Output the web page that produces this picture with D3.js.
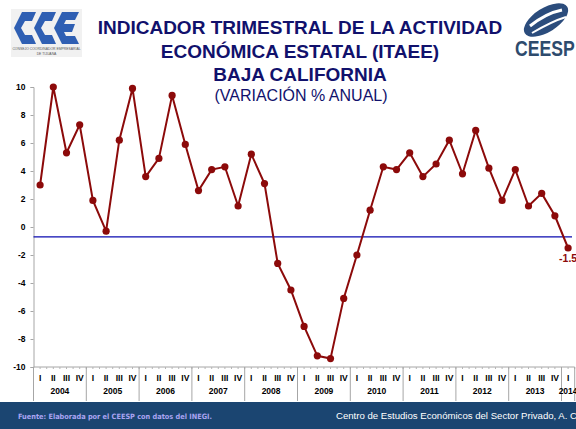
<!DOCTYPE html>
<html>
<head>
<meta charset="utf-8">
<script src="https://cdn.jsdelivr.net/npm/d3@7"></script>
<style>
  body { margin: 0; background: #fff; }
  svg { display: block; font-family: "Liberation Sans", Arial, sans-serif; }
</style>
</head>
<body>
<script>
// data
var years = ["2004", "2005", "2006", "2007", "2008", "2009", "2010", "2011", "2012", "2013", "2014"];
var quarters = ["I", "II", "III", "IV"];
var values = [
  3.0, 10.0, 5.3, 7.3,    // 2004
  1.9, -0.3, 6.2, 9.9,    // 2005
  3.6, 4.9, 9.4, 5.9,     // 2006
  2.6, 4.1, 4.3, 1.5,     // 2007
  5.2, 3.1, -2.6, -4.5,   // 2008
  -7.1, -9.2, -9.4, -5.1, // 2009
  -2.0, 1.2, 4.3, 4.1,    // 2010
  5.3, 3.6, 4.5, 6.2,     // 2011
  3.8, 6.9, 4.2, 1.9,     // 2012
  4.1, 1.5, 2.4, 0.8,     // 2013
  -1.5                    // 2014
];
var avgValue = -0.7;
var yTicks = [-10, -8, -6, -4, -2, 0, 2, 4, 6, 8, 10];
var titleLines = ["INDICADOR TRIMESTRAL DE LA ACTIVIDAD", "ECONÓMICA ESTATAL (ITAEE)", "BAJA CALIFORNIA"];
var subtitle = "(VARIACIÓN % ANUAL)";

var width = 576, height = 429;
var plotL = 33.5, plotR = 574.7, plotT = 87, plotB = 367;

var svg = d3.select("body").append("svg")
    .attr("width", width)
    .attr("height", height);

var points = values.map(function(v, i) {
  return { i: i, year: years[Math.floor(i / 4)], q: quarters[i % 4], v: v };
});

var x = d3.scaleBand()
    .domain(d3.range(values.length))
    .range([plotL, plotR]);
var bw = x.bandwidth();

var y = d3.scaleLinear()
    .domain([-10, 10])
    .range([plotB, plotT]);

// title
var navy = "#11116c";
svg.selectAll("text.title")
  .data(titleLines)
  .enter().append("text")
    .attr("class", "title")
    .attr("x", 300)
    .attr("y", function(d, i) { return 34 + i * 23.5; })
    .attr("text-anchor", "middle")
    .attr("font-size", 19)
    .attr("font-weight", "bold")
    .attr("fill", navy)
    .text(function(d) { return d; });

svg.append("text")
    .attr("x", 301)
    .attr("y", 101)
    .attr("text-anchor", "middle")
    .attr("font-size", 16)
    .attr("fill", navy)
    .text(subtitle);

// left logo (CCE)
var logo = svg.append("g");
logo.append("rect")
    .attr("x", 11).attr("y", 9).attr("width", 71).attr("height", 48)
    .attr("fill", "#f1f1f1");
function cShape(ox) {
  var y0 = 12, y1 = 44;
  return [[ox + 8, y0], [ox + 22, y0], [ox + 18, y0 + 9], [ox + 11, y0 + 9], [ox + 7, y0 + 16],
          [ox + 11, y0 + 23], [ox + 18, y0 + 23], [ox + 22, y1], [ox + 8, y1], [ox, y0 + 16]];
}
function eShape(ox) {
  var y0 = 12, y1 = 44;
  return [[ox + 8, y0], [ox + 25, y0], [ox + 21, y0 + 8], [ox + 12, y0 + 8], [ox + 10, y0 + 12],
          [ox + 21, y0 + 12], [ox + 18, y0 + 20], [ox + 10, y0 + 20], [ox + 12, y0 + 24],
          [ox + 21, y0 + 24], [ox + 25, y1], [ox + 8, y1], [ox, y0 + 16]];
}
[cShape(14), cShape(34), eShape(54)].forEach(function(p) {
  logo.append("polygon")
      .attr("points", p.map(function(d) { return d.join(","); }).join(" "))
      .attr("fill", "#2f5fb3");
});
logo.append("text").attr("x", 46.5).attr("y", 50).attr("text-anchor", "middle")
    .attr("font-size", 3.4).attr("fill", "#555").text("CONSEJO COORDINADOR EMPRESARIAL");
logo.append("text").attr("x", 46.5).attr("y", 54.5).attr("text-anchor", "middle")
    .attr("font-size", 3.4).attr("fill", "#555").text("DE TIJUANA");

// right logo (CEESP)
var logo2 = svg.append("g");
logo2.append("ellipse")
    .attr("cx", 546).attr("cy", 20).attr("rx", 25).attr("ry", 12)
    .attr("transform", "rotate(-32,546,20)")
    .attr("fill", "#2b4c7c");
logo2.append("path")
    .attr("d", "M530,26 C540,18 552,12 562,10")
    .attr("stroke", "#fff").attr("stroke-width", 3).attr("fill", "none");
logo2.append("path")
    .attr("d", "M532,33 C544,26 556,20 566,17")
    .attr("stroke", "#fff").attr("stroke-width", 2).attr("fill", "none");
logo2.append("text")
    .attr("transform", "translate(515,56) scale(0.8,1)")
    .attr("font-size", 22).attr("font-weight", "bold")
    .attr("fill", "#2e4b6d")
    .text("CEESP");

// y axis
var yAxis = svg.append("g")
    .attr("transform", "translate(" + plotL + ",0)")
    .call(d3.axisLeft(y).tickValues(yTicks).tickSize(3).tickPadding(5)
      .tickFormat(function(d) { return String(d); }));
yAxis.select(".domain").attr("stroke", "#a6a6a6");
yAxis.selectAll(".tick line").attr("stroke", "#a6a6a6");
yAxis.selectAll(".tick text")
    .attr("font-size", 8.5).attr("font-weight", "bold").attr("fill", "#000")
    .attr("font-family", "Liberation Sans, Arial, sans-serif");

// x axis line + minor ticks
svg.append("line")
    .attr("x1", plotL).attr("x2", plotR).attr("y1", plotB).attr("y2", plotB)
    .attr("stroke", "#a6a6a6");
svg.selectAll("line.minor")
  .data(d3.range(values.length * 2 + 1))
  .enter().append("line")
    .attr("class", "minor")
    .attr("x1", function(d) { return plotL + d * bw / 2; })
    .attr("x2", function(d) { return plotL + d * bw / 2; })
    .attr("y1", plotB).attr("y2", plotB + 2)
    .attr("stroke", "#b5b5b5");

// year separators
var yearStarts = years.map(function(d, k) { return k * 4; });
svg.selectAll("line.sep")
  .data(yearStarts.concat([values.length]))
  .enter().append("line")
    .attr("class", "sep")
    .attr("x1", function(d) { return d < values.length ? x(d) : plotR; })
    .attr("x2", function(d) { return d < values.length ? x(d) : plotR; })
    .attr("y1", plotB).attr("y2", 401)
    .attr("stroke", "#a6a6a6");

// quarter labels
svg.selectAll("text.q")
  .data(points)
  .enter().append("text")
    .attr("class", "q")
    .attr("x", function(d) { return x(d.i) + bw / 2; })
    .attr("y", 380.5)
    .attr("text-anchor", "middle")
    .attr("font-size", 8.5).attr("font-weight", "bold")
    .text(function(d) { return d.q; });

// year labels
svg.selectAll("text.yr")
  .data(years)
  .enter().append("text")
    .attr("class", "yr")
    .attr("x", function(d, k) {
      var n = Math.min(4, values.length - k * 4);
      return x(k * 4) + n * bw / 2;
    })
    .attr("y", 394)
    .attr("text-anchor", "middle")
    .attr("font-size", 8.5).attr("font-weight", "bold")
    .text(function(d) { return d; });

// average line
svg.append("line")
    .attr("x1", plotL).attr("x2", 572)
    .attr("y1", y(avgValue)).attr("y2", y(avgValue))
    .attr("stroke", "#0b0bb0").attr("stroke-width", 1.2);

// series
var red = "#8c0a0a";
var line = d3.line()
    .x(function(d) { return x(d.i) + bw / 2; })
    .y(function(d) { return y(d.v); });

svg.append("path")
    .datum(points)
    .attr("d", line)
    .attr("fill", "none")
    .attr("stroke", red)
    .attr("stroke-width", 2);

svg.selectAll("circle.pt")
  .data(points)
  .enter().append("circle")
    .attr("class", "pt")
    .attr("cx", function(d) { return x(d.i) + bw / 2; })
    .attr("cy", function(d) { return y(d.v); })
    .attr("r", 3.6)
    .attr("fill", red);

var last = points[points.length - 1];
svg.append("text")
    .attr("x", x(last.i) + bw / 2)
    .attr("y", y(last.v) + 14)
    .attr("text-anchor", "middle")
    .attr("font-size", 10.5).attr("font-weight", "bold")
    .attr("fill", red)
    .text(String(last.v));

// footer
svg.append("rect")
    .attr("x", 0).attr("y", 402).attr("width", width).attr("height", height - 402)
    .attr("fill", "#1b4571");
svg.append("text")
    .attr("x", 18).attr("y", 418.5)
    .attr("font-family", "DejaVu Sans Condensed, DejaVu Sans, sans-serif")
    .attr("font-size", 7.3).attr("font-weight", "bold")
    .attr("fill", "#aaa4f2")
    .text("Fuente: Elaborada por el CEESP con datos del INEGI.");
svg.append("text")
    .attr("x", 336).attr("y", 419)
    .attr("font-size", 9.6)
    .attr("fill", "#ffffff")
    .text("Centro de Estudios Económicos del Sector Privado, A. C.");
</script>
</body>
</html>
